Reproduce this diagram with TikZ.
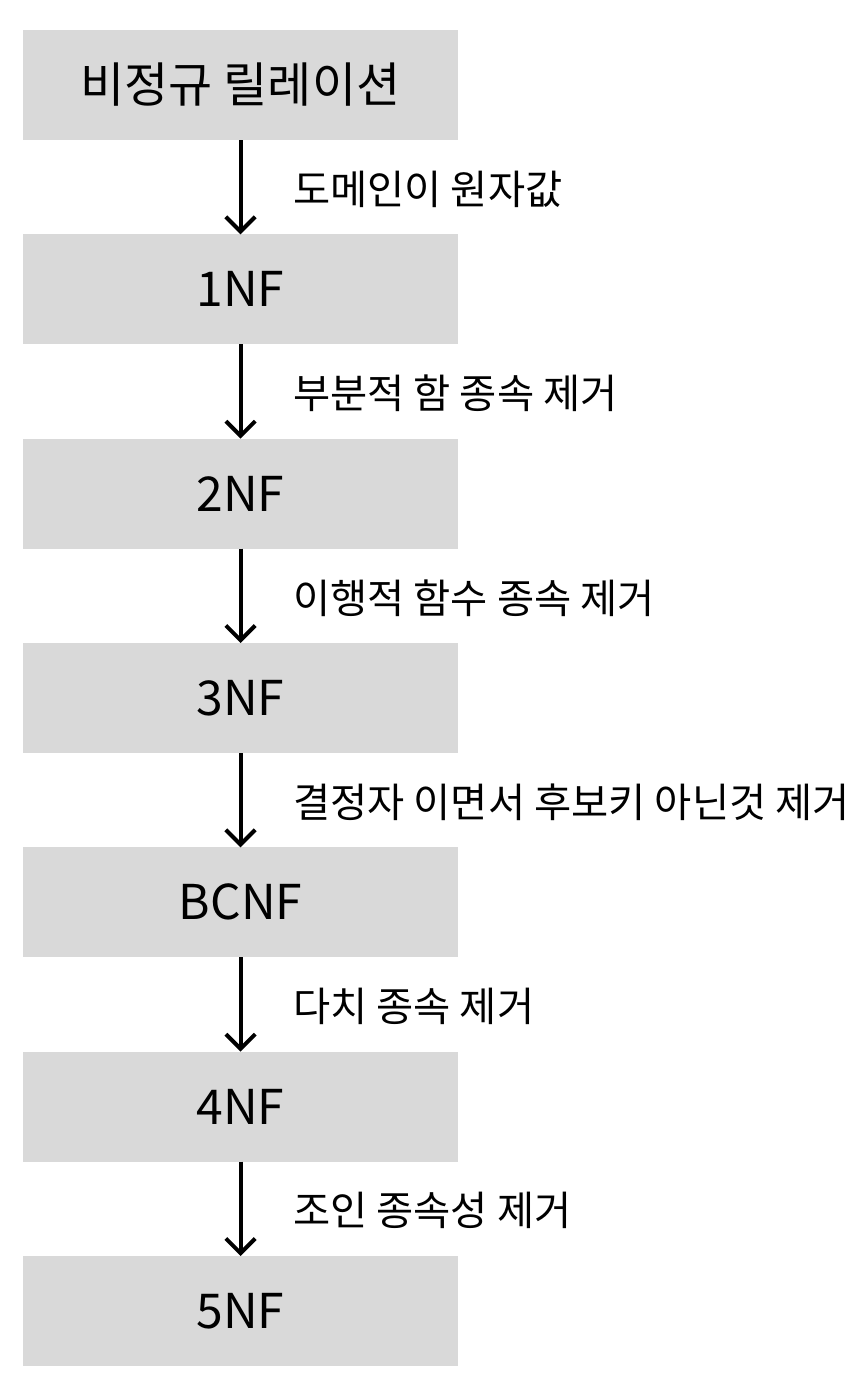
\documentclass[tikz,border=0pt]{standalone}
\usepackage{fontspec}
\setmainfont{Noto Sans CJK KR}
\usepackage{tikz}
\usetikzlibrary{arrows.meta,positioning}

\begin{document}
\begin{tikzpicture}[
  node distance=70.75pt,
  nf/.style={fill=gray!30, minimum width=326.25pt, minimum height=82.5pt,
    inner sep=0pt, outer sep=0pt, font=\fontsize{36}{42}\selectfont},
  lbl/.style={anchor=west, xshift=38pt, yshift=-1.5pt, inner sep=0pt,
    font=\fontsize{30.3}{36}\selectfont},
  >={Straight Barb[length=11pt,width=22pt]}, line width=3pt
]
\useasboundingbox (0,0) rectangle (649.5pt,-1041pt);

\node[nf] (rel) at (180.4pt,-63.75pt) {비정규 릴레이션};
\node[nf, below=of rel] (nf1) {1NF};
\node[nf, below=of nf1] (nf2) {2NF};
\node[nf, below=of nf2] (nf3) {3NF};
\node[nf, below=of nf3] (bcnf) {BCNF};
\node[nf, below=of bcnf] (nf4) {4NF};
\node[nf, below=of nf4] (nf5) {5NF};

\draw[->] (rel) -- node[lbl] (l1) {도메인이 원자값} (nf1);
\draw[->] (nf1) -- node[lbl] (l2) {부분적 함 종속 제거} (nf2);
\draw[->] (nf2) -- node[lbl] (l3) {이행적 함수 종속 제거} (nf3);
\draw[->] (nf3) -- node[lbl] (l4) {결정자 이면서 후보키 아닌것 제거} (bcnf);
\draw[->] (bcnf) -- node[lbl] (l5) {다치 종속 제거} (nf4);
\draw[->] (nf4) -- node[lbl] (l6) {조인 종속성 제거} (nf5);
\end{tikzpicture}
\end{document}
